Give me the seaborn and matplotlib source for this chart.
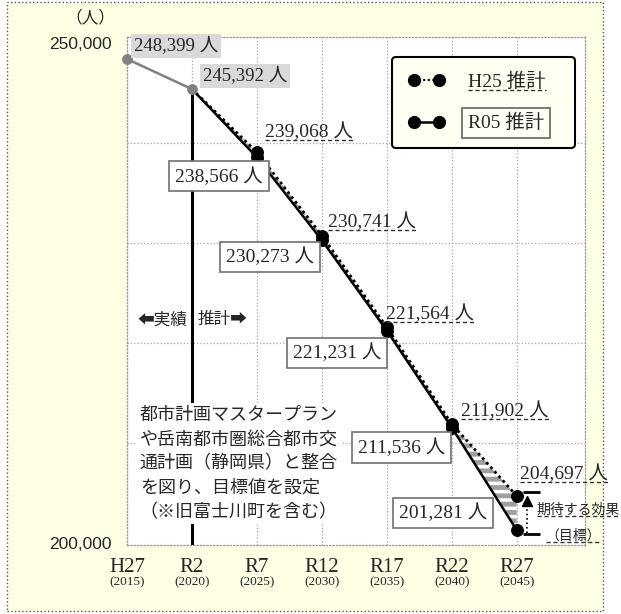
import numpy as np
import pandas as pd
import seaborn as sns
import matplotlib.pyplot as plt
from matplotlib.lines import Line2D
from matplotlib.patches import Rectangle

# data
periods = ['H27', 'R2', 'R7', 'R12', 'R17', 'R22', 'R27']
years = ['(2015)', '(2020)', '(2025)', '(2030)', '(2035)', '(2040)', '(2045)']
actual_pop = [248399, 245392]          # H27, R2
h25_pop = [245392, 239068, 230741, 221564, 211902, 204697]   # R2..R27
r05_pop = [245392, 238566, 230273, 221231, 211536, 201281]   # R2..R27

sns.set_style('white')
plt.rcParams['font.family'] = ['Noto Sans CJK JP', 'DejaVu Sans']
plt.rcParams['hatch.linewidth'] = 3.5
SERIF = ['Liberation Serif', 'Noto Sans CJK JP']

fig = plt.figure(figsize=(6.21, 6.14), dpi=100, facecolor='white')
fig.add_artist(Rectangle((7 / 621, 3 / 614), 596 / 621, 609 / 614, transform=fig.transFigure,
                         facecolor='#FFFFE6', edgecolor='#555555', linestyle=':', linewidth=1, zorder=-1))
ax = fig.add_axes([127 / 621, 69 / 614, 458 / 621, 508 / 614])
ax.set_facecolor('white')

x_act = np.arange(0, 2)
x_est = np.arange(1, 7)
act = pd.DataFrame({'x': x_act, 'pop': actual_pop})
est = pd.DataFrame({'x': x_est, 'h25': h25_pop, 'r05': r05_pop})

# band between the two estimates
ax.fill_between(est['x'], est['h25'], est['r05'], facecolor='white', edgecolor='#a0a0a0',
                hatch='--', linewidth=0, zorder=2)

sns.lineplot(data=est, x='x', y='h25', ax=ax, color='black', linestyle=(0, (1, 1.2)), linewidth=2,
             marker='o', markersize=8.5, markeredgecolor='black', markevery=list(range(1, 6)), zorder=4)
sns.lineplot(data=est, x='x', y='r05', ax=ax, color='black', linewidth=1.8,
             marker='o', markersize=8.5, markeredgecolor='black', markevery=list(range(1, 6)), zorder=4)
ax.vlines(x_est[0], ax.get_ylim()[0] - 1000, r05_pop[0], color='black', linewidth=2.2, zorder=3)
sns.lineplot(data=act, x='x', y='pop', ax=ax, color='#808080', linewidth=1.8,
             marker='o', markersize=7, markeredgecolor='#808080', zorder=5, clip_on=False)

ax.set_xlim(0, 7.05)
ax.set_ylim(199800, 250600)

# axes cosmetics
for s in ax.spines.values():
    s.set_linestyle(':')
    s.set_color('#999999')
    s.set_linewidth(0.9)
ax.set_yticks([200000, 250000])
ax.set_yticklabels(['200,000', '250,000'], fontsize=12.5, family=['Liberation Sans'])
ax.set_yticks(range(210000, 250000, 10000), minor=True)
ax.set_xticks(range(len(periods)))
ax.set_xticklabels(periods, fontsize=15, family=SERIF)
ax.tick_params(axis='both', which='both', length=0)
ax.tick_params(axis='y', pad=11)
ax.tick_params(axis='x', pad=9)
ax.grid(which='minor', axis='y', linestyle=':', color='#a6a6a6', linewidth=0.9)
ax.grid(which='major', axis='x', linestyle=':', color='#a6a6a6', linewidth=0.9)
ax.set_xlabel('')
ax.set_ylabel('')
for i, yr in enumerate(years):
    ax.annotate(yr, xy=(i, 0), xycoords=('data', 'axes fraction'), xytext=(0, -37),
                textcoords='offset pixels', ha='center', va='center', fontsize=9.5, family=SERIF)
fig.text(90 / 621, 1 - 18 / 614, '（人）', ha='center', va='center', fontsize=12)

underlined = []

# value labels
gray_box = dict(boxstyle='square,pad=0.15', facecolor='#d9d9d9', edgecolor='none')
for xi, v, off in zip(x_act, actual_pop, [(49, 13), (53, 13)]):
    ax.annotate(f'{v:,} 人', xy=(xi, v), xytext=off, textcoords='offset pixels', ha='center',
                va='center', fontsize=13.5, family=SERIF, bbox=gray_box, zorder=6)

h25_off = [(52, 21), (50, 14), (43, 14), (53, 13), (47, 22)]
for xi, v, off in zip(x_est[1:], h25_pop[1:], h25_off):
    t = ax.annotate(f'{v:,} 人', xy=(xi, v), xytext=off, textcoords='offset pixels', ha='center',
                    va='center', fontsize=14, family=SERIF, zorder=6)
    underlined.append(t)

white_box = dict(boxstyle='square,pad=0.3', facecolor='white', edgecolor='#707070', linewidth=1.2)
r05_off = [(-38, -19), (-52, -17), (-50, -22), (-50, -20), (-74, 17)]
for xi, v, off in zip(x_est[1:], r05_pop[1:], r05_off):
    ax.annotate(f'{v:,} 人', xy=(xi, v), xytext=off, textcoords='offset pixels', ha='center',
                va='center', fontsize=14, family=SERIF, bbox=white_box, zorder=6)

# actual / estimate marker
ax.annotate('⬅実績', xy=(1, 0.443), xycoords=('data', 'axes fraction'), xytext=(-5, 0),
            textcoords='offset pixels', ha='right', va='center', fontsize=12,
            family=['Noto Sans CJK JP', 'DejaVu Sans'])
ax.annotate('推計➡', xy=(1, 0.443), xycoords=('data', 'axes fraction'), xytext=(6, 0),
            textcoords='offset pixels', ha='left', va='center', fontsize=12,
            family=['Noto Sans CJK JP', 'DejaVu Sans'])

note = ('都市計画マスタープラン\nや岳南都市圏総合都市交\n通計画（静岡県）と整合\n'
        'を図り、目標値を設定\n（※旧富士川町を含む）')
ax.text(0.028, 0.274, note, transform=ax.transAxes, ha='left', va='top', fontsize=13,
        linespacing=1.46, bbox=dict(facecolor='white', edgecolor='none', pad=2), zorder=6)

# expected effect bracket
bx = 6.16
ax.hlines([h25_pop[-1] + 400, r05_pop[-1] - 400], bx - 0.07, bx + 0.2, color='black', linewidth=2, zorder=5)
ax.vlines(bx, r05_pop[-1] - 300, h25_pop[-1] - 500, color='black', linestyle=':', linewidth=1.2, zorder=5)
ax.plot([bx], [h25_pop[-1] - 500], marker='^', color='black', markersize=7, zorder=5)
t1 = ax.text(0.895, 0.069, '期待する効果', transform=ax.transAxes, ha='left', va='center', fontsize=10)
t2 = ax.text(1.035, 0.018, '（目標）', transform=ax.transAxes, ha='right', va='center', fontsize=10)
underlined += [t1, t2]

# legend
h_h25 = Line2D([], [], color='black', linestyle=(0, (1, 1.2)), linewidth=1.5, marker='o',
               markersize=8.5)
h_r05 = Line2D([], [], color='black', linewidth=1.8, marker='o', markersize=8.5)
leg = ax.legend([h_h25, h_r05], ['H25 推計', 'R05 推計'], loc='upper left',
                bbox_to_anchor=(0.579, 0.7815, 0.399, 0.1795), mode='expand', borderaxespad=0,
                numpoints=2, handlelength=1.9, handletextpad=1.2, labelspacing=1.2, borderpad=0.8,
                fancybox=True, framealpha=1, facecolor='#FFFFF2', edgecolor='black',
                prop={'family': SERIF, 'size': 14})
leg.get_frame().set_linewidth(1.5)
leg.set_zorder(7)
leg.get_texts()[1].set_bbox(dict(boxstyle='square,pad=0.3', facecolor='#FFFFF5', edgecolor='#707070',
                                 linewidth=1.3))
underlined.append(leg.get_texts()[0])

fig.canvas.draw()
inv = fig.transFigure.inverted()
for t in underlined:
    bb = t.get_window_extent()
    (x0, y0), (x1, _) = inv.transform([(bb.x0, bb.y0 + 1), (bb.x1, bb.y0 + 1)])
    fig.add_artist(Line2D([x0, x1], [y0, y0], transform=fig.transFigure, color='#333333',
                          linestyle=(0, (3, 2)), linewidth=1, zorder=8))

fig.savefig('out.png', dpi=100, facecolor='white')
